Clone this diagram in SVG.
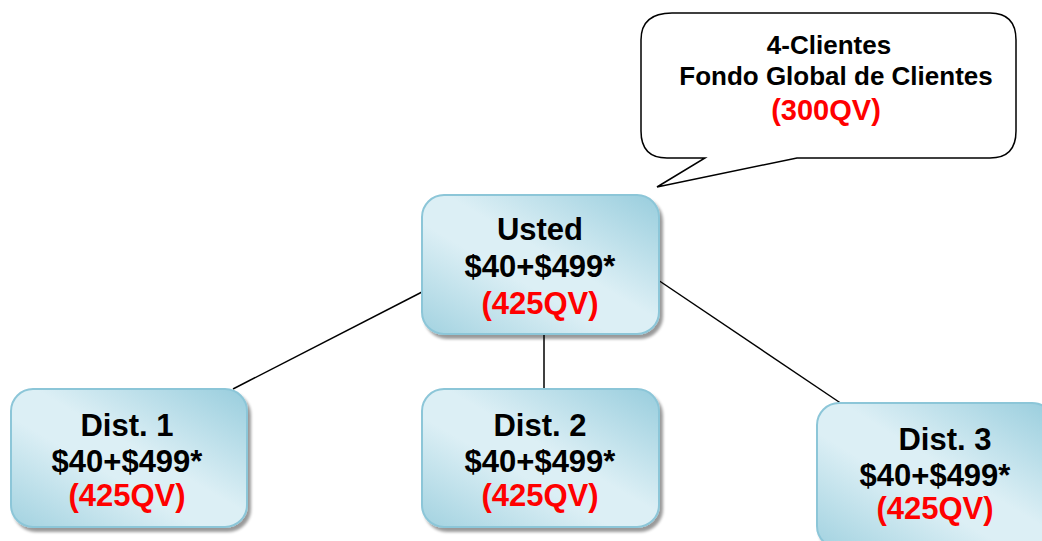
<svg xmlns="http://www.w3.org/2000/svg" width="1042" height="541" viewBox="0 0 1042 541">
<defs>
<linearGradient id="g" x1="1" y1="0" x2="0" y2="1">
<stop offset="0" stop-color="#98cddd"/>
<stop offset="0.45" stop-color="#dceff5"/>
<stop offset="0.6" stop-color="#dceff5"/>
<stop offset="1" stop-color="#a2d2e0"/>
</linearGradient>
<filter id="sh" x="-10%" y="-10%" width="130%" height="130%">
<feGaussianBlur in="SourceAlpha" stdDeviation="1.5"/>
<feOffset dx="3" dy="4"/>
<feComponentTransfer><feFuncA type="linear" slope="0.4"/></feComponentTransfer>
<feMerge><feMergeNode/><feMergeNode in="SourceGraphic"/></feMerge>
</filter>
</defs>
<style>
.box{fill:url(#g);stroke:#8cc6d8;stroke-width:2;filter:url(#sh)}
.t{font-family:"Liberation Sans",Arial,sans-serif;font-weight:bold;text-anchor:middle;fill:#000}
.big{font-size:31px}
.sm{font-size:26px}
.smr{font-size:29px}
.red{fill:#ff0000}
.ln{stroke:#000;stroke-width:1.5;fill:none}
</style>
<g id="connectors">
<line class="ln" x1="422" y1="292" x2="233" y2="389"/>
<line class="ln" x1="544" y1="335" x2="544" y2="389"/>
<line class="ln" x1="658" y1="280" x2="842" y2="404"/>
</g>
<g id="callout">
<path d="M672,13 H990 Q1016,13 1016,40 V131 Q1016,158 990,158 H797 L657,187 L705,158 H667 Q641,158 641,131 V40 Q641,13 672,13 Z" fill="#fff" stroke="#000" stroke-width="1.5"/>
<text class="t sm" x="829" y="54">4-Clientes</text>
<text class="t sm" x="836" y="85">Fondo Global de Clientes</text>
<text class="t smr red" x="826" y="120">(300QV)</text>
</g>
<g id="usted">
<rect class="box" x="422" y="195" width="237" height="139" rx="22"/>
<text class="t big" x="540" y="240">Usted</text>
<text class="t big" x="540" y="277">$40+$499*</text>
<text class="t big red" x="540" y="314">(425QV)</text>
</g>
<g id="dist1">
<rect class="box" x="11" y="389" width="236" height="138" rx="22"/>
<text class="t big" x="127" y="436">Dist. 1</text>
<text class="t big" x="127" y="472">$40+$499*</text>
<text class="t big red" x="127" y="506">(425QV)</text>
</g>
<g id="dist2">
<rect class="box" x="422" y="389" width="237" height="138" rx="22"/>
<text class="t big" x="540" y="436">Dist. 2</text>
<text class="t big" x="540" y="472">$40+$499*</text>
<text class="t big red" x="540" y="506">(425QV)</text>
</g>
<g id="dist3">
<rect class="box" x="817" y="403" width="237" height="145" rx="22"/>
<text class="t big" x="945" y="450">Dist. 3</text>
<text class="t big" x="935" y="486">$40+$499*</text>
<text class="t big red" x="935" y="519">(425QV)</text>
</g>
</svg>
